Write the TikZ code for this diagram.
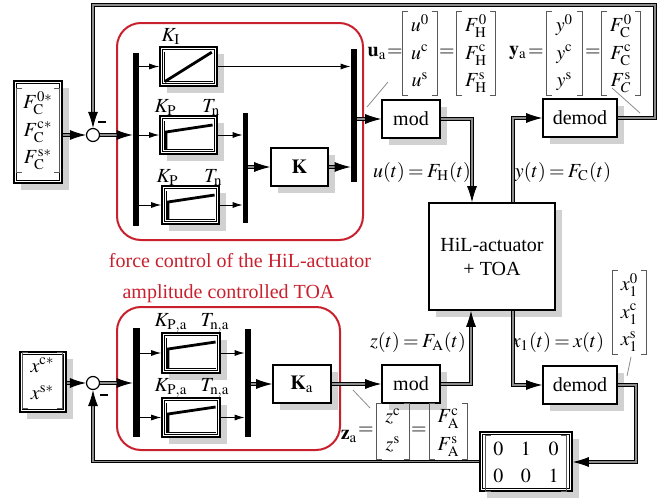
\documentclass[tikz,border=0pt]{standalone}
\usepackage{amsmath}
\usepackage{mathptmx}
\usepackage{fontspec}
\setmainfont{Liberation Serif}
\usetikzlibrary{arrows.meta,shadows,positioning}

\definecolor{ctrlred}{RGB}{200,32,45}
\renewcommand{\arraystretch}{1.15}

% thin frame just inside a block border
\newcommand{\innerframe}{\draw[line width=0.35pt]
  ([shift={(1.3pt,-1.3pt)}]path picture bounding box.north west) rectangle
  ([shift={(-1.3pt,1.3pt)}]path picture bounding box.south east);}
% axes of the small plots
\newcommand{\plotaxes}{\draw[line width=0.35pt]
  ([shift={(2.2pt,-2.6pt)}]path picture bounding box.north west) |-
  ([shift={(-2.2pt,2.2pt)}]path picture bounding box.south east);}
% vector entry, rows keep the strut spacing
\newcommand{\ve}[1]{\smash{#1}}
% square brackets round a vector node
\newcommand{\brackets}[1]{\draw[brk]
  ([xshift=2.5pt]#1.north west) -| (#1.south west) -- ++(2.5pt,0)
  ([xshift=-2.5pt]#1.north east) -| (#1.south east) -- ++(-2.5pt,0);}

\tikzset{
  blk/.style={draw, fill=white, line width=0.8pt, inner sep=0pt,
    drop shadow={shadow xshift=3.5pt, shadow yshift=-3.5pt, fill=black!18, opacity=1}},
  fblk/.style={blk, path picture={\innerframe}},
  intblk/.style={blk, minimum width=28.5pt, minimum height=19.5pt, path picture={
    \innerframe \plotaxes
    \draw[line width=1.4pt] ([shift={(2.4pt,2.2pt)}]path picture bounding box.south west)
      -- ([shift={(-2.6pt,-2.6pt)}]path picture bounding box.north east);}},
  piblk/.style={blk, minimum width=28.5pt, minimum height=19pt, path picture={
    \innerframe \plotaxes
    \draw[line width=1.4pt] ([shift={(3pt,2.2pt)}]path picture bounding box.south west)
      -- ([shift={(3pt,-8pt)}]path picture bounding box.north west)
      -- ([shift={(-2.2pt,-4.5pt)}]path picture bounding box.north east);}},
  bar/.style={fill=black, inner sep=0pt, minimum width=3pt},
  sumpt/.style={circle, draw, fill=white, line width=0.6pt, minimum size=6.5pt, inner sep=0pt},
  neg/.style={inner sep=0pt},
  ctrlframe/.style={draw=ctrlred, line width=1pt, rounded corners=12pt, inner sep=0pt},
  redtext/.style={text=ctrlred},
  sig/.style={line width=0.45pt, -{Latex[length=5pt,width=3pt]}},
  vec/.style={line width=0.45pt, double=black!45, double distance=0.9pt,
    -{Latex[length=8pt,width=5pt]}},
  note/.style={draw=black!45, line width=0.4pt},
  brk/.style={draw=black!65, line width=0.5pt},
  vecn/.style={inner sep=0pt, minimum height=41.5pt},
  par/.style={inner sep=0pt},
  lbl/.style={execute at begin node={\thickmuskip=3mu}}
}

\begin{document}
\begin{tikzpicture}[x=0.5pt,y=-0.5pt]
\useasboundingbox (0,0) rectangle (671,498);

% red frames round the two controllers
\node[ctrlframe, minimum width=123pt, minimum height=108.5pt] (fc) at (240,131.5) {};
\node[redtext, below=2.5pt of fc] (fclabel) {force control of the HiL-actuator};
\node[ctrlframe, minimum width=111.5pt, minimum height=71.5pt] (ac) at (228.5,378.5) {};
\node[redtext, above=-2pt of ac] (aclabel) {amplitude controlled TOA};

% force control loop
\node[fblk, minimum width=24pt, minimum height=51pt] (in1) at (38,132) {};
\node[vecn, minimum width=21pt] (in1v) at (38,130.5)
  {$\begin{array}{@{}c@{}}\ve{F_\mathrm{C}^{0*}}\\\ve{F_\mathrm{C}^{\mathrm{c}*}}\\\ve{F_\mathrm{C}^{\mathrm{s}*}}\end{array}$};
\node[sumpt] (sum1) at (93,135) {};
\node[neg] (neg1) at (102,122) {\rule{4pt}{1.3pt}};
\node[bar, minimum height=86.5pt] (bar1) at (136,139.5) {};
\node[intblk] (bI) at (188.5,66.5) {};
\node[piblk] (bP1) at (188.5,135) {};
\node[piblk] (bP2) at (190.5,205) {};
\node[par, anchor=base west] (kI) at ([shift={(1pt,2.5pt)}]bI.north west) {$K_\mathrm{I}$};
\node[par, anchor=base west] (kP1) at ([shift={(-2.5pt,1.5pt)}]bP1.north west) {$K_\mathrm{P}$};
\node[par, anchor=base east] (tn1) at ([shift={(1.5pt,1.5pt)}]bP1.north east) {$T_\mathrm{n}$};
\node[par, anchor=base west] (kP2) at ([shift={(-2.5pt,1.5pt)}]bP2.north west) {$K_\mathrm{P}$};
\node[par, anchor=base east] (tn2) at ([shift={(1.5pt,1.5pt)}]bP2.north east) {$T_\mathrm{n}$};
\node[bar, minimum width=2.5pt, minimum height=55pt] (bar2) at (245.5,168) {};
\node[blk, minimum width=28.5pt, minimum height=19pt] (bK) at (299.5,167) {$\mathbf{K}$};
\node[bar, minimum height=66.5pt] (bar3) at (354,115.5) {};
\node[blk, minimum width=29pt, minimum height=19pt] (mod1) at (411,119) {mod};

% plant and demodulators
\node[blk, minimum width=63pt, minimum height=53.5pt, align=center] (hil) at (492,256.5)
  {HiL-actuator\\+ TOA};
\node[blk, minimum width=37pt, minimum height=19pt] (demod1) at (580,118) {demod};
\node[blk, minimum width=37pt, minimum height=19pt] (demod2) at (580,385) {demod};

% amplitude control loop
\node[fblk, minimum width=23pt, minimum height=30pt] (in2) at (43,382) {};
\node[vecn, minimum width=19.5pt, minimum height=27.5pt] (in2v) at (42.5,380.5)
  {$\begin{array}{@{}c@{}}\ve{x^{\mathrm{c}*}}\\\ve{x^{\mathrm{s}*}}\end{array}$};
\node[sumpt] (sum2) at (93,383) {};
\node[neg] (neg2) at (104,395) {\rule{4pt}{1.3pt}};
\node[bar, minimum width=3.5pt, minimum height=54.5pt] (bar4) at (136.5,382.5) {};
\node[piblk, minimum width=29pt, minimum height=20pt] (bA1) at (191,353) {};
\node[piblk, minimum width=29pt, minimum height=19.5pt] (bA2) at (191,417.5) {};
\node[par, anchor=base west] (kPa1) at ([shift={(-3.5pt,3pt)}]bA1.north west) {$K_\mathrm{P,a}$};
\node[par, anchor=base east] (tna1) at ([shift={(4.5pt,3pt)}]bA1.north east) {$T_\mathrm{n,a}$};
\node[par, anchor=base west] (kPa2) at ([shift={(-3.5pt,3pt)}]bA2.north west) {$K_\mathrm{P,a}$};
\node[par, anchor=base east] (tna2) at ([shift={(4.5pt,3pt)}]bA2.north east) {$T_\mathrm{n,a}$};
\node[bar, minimum height=54pt] (bar5) at (248,383) {};
\node[blk, minimum width=29pt, minimum height=19pt] (bKa) at (302,384) {$\mathbf{K}_\mathrm{a}$};
\node[blk, minimum width=29pt, minimum height=19pt] (mod2) at (411,384) {mod};
\node[fblk, minimum width=46pt, minimum height=29.5pt] (mat) at (526,461.5) {};
\node[vecn, minimum width=40pt, minimum height=23.5pt] (matv) at (526,463.5)
  {$\arraycolsep=4.4pt\begin{array}{@{}ccc@{}}0&1&0\\0&0&1\end{array}$};

% signal vectors
\node[par] (ualbl) at (377,53) {$\mathbf{u}_\mathrm{a}$};
\node[par] (ueq0) at (395,53) {$=$};
\node[vecn, minimum width=17pt] (uv) at (420,53.5)
  {$\begin{array}{@{}c@{}}\ve{u^0}\\\ve{u^\mathrm{c}}\\\ve{u^\mathrm{s}}\end{array}$};
\node[par] (ueq1) at (447,53) {$=$};
\node[vecn, minimum width=19pt] (fhv) at (476,53.5)
  {$\begin{array}{@{}c@{}}\ve{F_\mathrm{H}^0}\\\ve{F_\mathrm{H}^\mathrm{c}}\\\ve{F_\mathrm{H}^\mathrm{s}}\end{array}$};
\node[par] (yalbl) at (518,53) {$\mathbf{y}_\mathrm{a}$};
\node[par] (yeq0) at (536,53) {$=$};
\node[vecn, minimum width=17.5pt] (yv) at (564.5,53.5)
  {$\begin{array}{@{}c@{}}\ve{y^0}\\\ve{y^\mathrm{c}}\\\ve{y^\mathrm{s}}\end{array}$};
\node[par] (yeq1) at (593,53) {$=$};
\node[vecn, minimum width=19pt] (fcv) at (621,53.5)
  {$\begin{array}{@{}c@{}}\ve{F_\mathrm{C}^0}\\\ve{F_\mathrm{C}^\mathrm{c}}\\\ve{F_C^\mathrm{s}}\end{array}$};
\node[par] (zalbl) at (349,436) {$\mathbf{z}_\mathrm{a}$};
\node[par] (zeq0) at (366,431) {$=$};
\node[vecn, minimum width=16pt, minimum height=26pt] (zv) at (393,431)
  {$\begin{array}{@{}c@{}}\ve{z^\mathrm{c}}\\\ve{z^\mathrm{s}}\end{array}$};
\node[par] (zeq1) at (419,431) {$=$};
\node[vecn, minimum width=18.5pt, minimum height=26pt] (fav) at (448.5,431)
  {$\begin{array}{@{}c@{}}\ve{F_\mathrm{A}^\mathrm{c}}\\\ve{F_\mathrm{A}^\mathrm{s}}\end{array}$};
\node[vecn, minimum width=16.5pt] (x1v) at (629.5,312.5)
  {$\begin{array}{@{}c@{}}\ve{x_1^0}\\\ve{x_1^\mathrm{c}}\\\ve{x_1^\mathrm{s}}\end{array}$};
\foreach \v in {in1v,in2v,matv,uv,fhv,yv,fcv,zv,fav,x1v} {\brackets{\v}}

\node[lbl] (ut) at (422,172) {$u(t)=F_\mathrm{H}(t)$};
\node[lbl] (yt) at (563,172) {$y(t)=F_\mathrm{C}(t)$};
\node[lbl] (zt) at (418,342) {$z(t)=F_\mathrm{A}(t)$};
\node[lbl] (xt) at (558,342) {$x_1(t)=x(t)$};

% pointer lines to the vectors
\draw[note] (367,107) -- (388,82);
\draw[note] (612,88) -- (640,113);
\draw[note] (627,376) -- (631,357);
\draw[note] (353,390) -- (370,408);

% scalar signals
\draw[sig] (bar1.east |- bI) -- (bI);
\draw[sig] (bar1.east |- bP1) -- (bP1);
\draw[sig] (bar1.east |- bP2) -- (bP2);
\draw[sig] (bI) -- (bI -| bar3.west);
\draw[sig] (bP1) -- (bP1 -| bar2.west);
\draw[sig] (bP2) -- (bP2 -| bar2.west);
\draw[sig] (bar4.east |- bA1) -- (bA1);
\draw[sig] (bar4.east |- bA2) -- (bA2);
\draw[sig] (bA1) -- (bA1 -| bar5.west);
\draw[sig] (bA2) -- (bA2 -| bar5.west);

% vector signals
\coordinate (fbtop) at (655,5);
\coordinate (fbright) at (636,462);
\draw[vec] (in1.east |- sum1) -- (sum1);
\draw[vec] (sum1) -- (sum1 -| bar1.west);
\draw[vec] (bar2.east |- bK) -- (bK);
\draw[vec] (bK) -- (bK -| bar3.west);
\draw[vec] (bar3.east |- mod1) -- (mod1);
\draw[vec] (mod1) -| ([xshift=-10pt]hil.north);
\draw[vec] ([xshift=10.5pt]hil.north) |- (demod1);
\draw[vec] (demod1) -| (fbtop) -| (sum1);
\draw[vec] (in2.east |- sum2) -- (sum2);
\draw[vec] (sum2) -- (sum2 -| bar4.west);
\draw[vec] (bar5.east |- bKa) -- (bKa);
\draw[vec] (bKa) -- (mod2);
\draw[vec] (mod2) -| ([xshift=-10.5pt]hil.south);
\draw[vec] ([xshift=10.5pt]hil.south) |- (demod2);
\draw[vec] (demod2) -| (fbright) -- (fbright -| mat.east);
\draw[vec] (mat) -| (sum2);
\end{tikzpicture}
\end{document}
